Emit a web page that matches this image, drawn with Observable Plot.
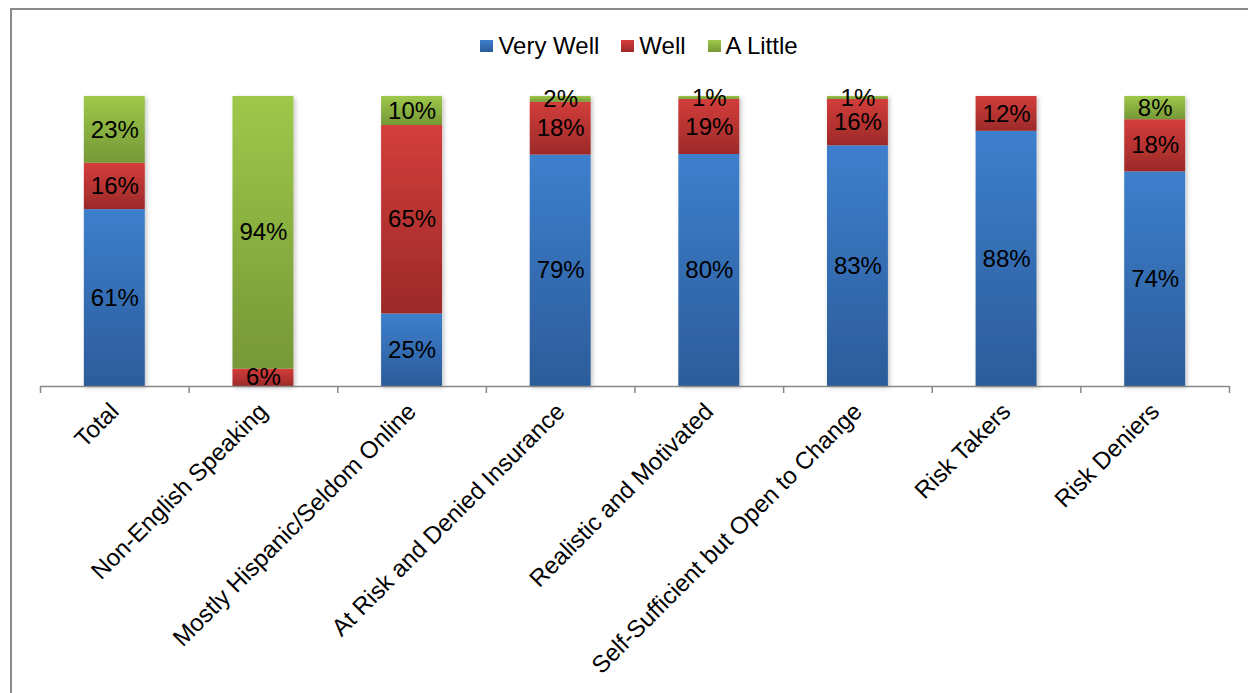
<!DOCTYPE html>
<html>
<head>
<meta charset="utf-8">
<script src="https://cdn.jsdelivr.net/npm/d3@7"></script>
<script src="https://cdn.jsdelivr.net/npm/@observablehq/plot@0.6"></script>
<style>
  html, body { margin: 0; padding: 0; background: #fff; overflow: hidden; }
  body { font-family: "Liberation Sans", Arial, sans-serif; width: 1248px; height: 693px; position: relative; }
  #frame { position: absolute; left: 10px; top: 8px; width: 1300px; height: 760px; border: 2px solid #8a8a8a; box-sizing: border-box; pointer-events: none; }
  #legend { height: 70px; display: flex; justify-content: center; align-items: flex-start; padding-top: 34px; padding-left: 30px; box-sizing: border-box; font-size: 24px; color: #000; line-height: 24px; }
  .item { display: flex; align-items: center; margin: 0 11px; }
  .sw { width: 13px; height: 12px; margin-right: 5px; }
  #defs { position: absolute; width: 0; height: 0; }
</style>
</head>
<body>
<svg id="defs" aria-hidden="true">
  <defs>
    <linearGradient id="grad-very-well" x1="0" y1="0" x2="0" y2="1">
      <stop offset="0" stop-color="#3d7fcd"/>
      <stop offset="1" stop-color="#2c5c9a"/>
    </linearGradient>
    <linearGradient id="grad-well" x1="0" y1="0" x2="0" y2="1">
      <stop offset="0" stop-color="#d33d3b"/>
      <stop offset="1" stop-color="#9c2a29"/>
    </linearGradient>
    <linearGradient id="grad-a-little" x1="0" y1="0" x2="0" y2="1">
      <stop offset="0" stop-color="#9ec84a"/>
      <stop offset="1" stop-color="#769837"/>
    </linearGradient>
    <filter id="bar-shadow" x="-20%" y="-5%" width="140%" height="115%">
      <feDropShadow dx="2" dy="1.5" stdDeviation="2" flood-color="#000" flood-opacity="0.22"/>
    </filter>
  </defs>
</svg>
<div id="frame"></div>
<div id="legend"></div>
<div id="chart"></div>
<script>
// Segments, series and their shares (percent of respondents)
const categories = [
  "Total",
  "Non-English Speaking",
  "Mostly Hispanic/Seldom Online",
  "At Risk and Denied Insurance",
  "Realistic and Motivated",
  "Self-Sufficient but Open to Change",
  "Risk Takers",
  "Risk Deniers"
];
const series = ["Very Well", "Well", "A Little"];
const veryWell = [61, 0, 25, 79, 80, 83, 88, 74];
const well     = [16, 6, 65, 18, 19, 16, 12, 18];
const aLittle  = [23, 94, 10, 2, 1, 1, 0, 8];

const seriesFills = ["url(#grad-very-well)", "url(#grad-well)", "url(#grad-a-little)"];
const swatchFills = ["linear-gradient(#3d7fcd,#2c5c9a)", "linear-gradient(#d33d3b,#9c2a29)", "linear-gradient(#9ec84a,#769837)"];

// Long table: one row per category and series
const valuesBySeries = [veryWell, well, aLittle];
const rows = [];
categories.forEach((c, i) => {
  series.forEach((s, j) => rows.push({category: c, series: s, value: valuesBySeries[j][i]}));
});

// Legend
const legend = document.getElementById("legend");
series.forEach((s, j) => {
  const item = document.createElement("div");
  item.className = "item";
  const sw = document.createElement("div");
  sw.className = "sw";
  sw.style.background = swatchFills[j];
  const label = document.createElement("span");
  label.textContent = s;
  item.append(sw, label);
  legend.append(item);
});

const step = (1229 - 40) / categories.length;
const axisColor = "#878787";

const chart = Plot.plot({
  width: 1248,
  height: 623,
  marginTop: 26,
  marginBottom: 307,
  marginLeft: 40,
  marginRight: 19,
  style: {fontFamily: "'Liberation Sans', Arial, sans-serif", fontSize: "24px", color: "#000", background: "transparent"},
  x: {domain: categories, paddingInner: 0.59, paddingOuter: 0.295, align: 0.5, round: false, label: null},
  y: {domain: [0, 1], axis: null},
  color: {domain: series, range: seriesFills},
  marks: [
    Plot.barY(rows, Plot.stackY({
      x: "category", y: "value", fill: "series", offset: "normalize"
    })),
    Plot.text(rows, Plot.stackY({
      filter: d => d.value > 0,
      x: "category", y: "value", offset: "normalize",
      text: d => d.value + "%",
      fill: "#000", fontSize: 24
    })),
    Plot.ruleY([0], {stroke: axisColor, strokeWidth: 1.5}),
    // boundary ticks between categories
    Plot.axisX(categories, {tickSize: 7, dx: -step / 2, tickFormat: () => "", stroke: axisColor, strokeWidth: 1.5, label: null}),
    Plot.axisX([categories[categories.length - 1]], {tickSize: 7, dx: step / 2, tickFormat: () => "", stroke: axisColor, strokeWidth: 1.5, label: null}),
    // category labels
    Plot.axisX({tickSize: 0, tickRotate: -45, tickPadding: 21, fontSize: 24, label: null, fill: "#000"})
  ]
});

d3.select(chart).selectAll("g[aria-label=bar]").attr("filter", "url(#bar-shadow)");
document.getElementById("chart").append(chart);
</script>
</body>
</html>
